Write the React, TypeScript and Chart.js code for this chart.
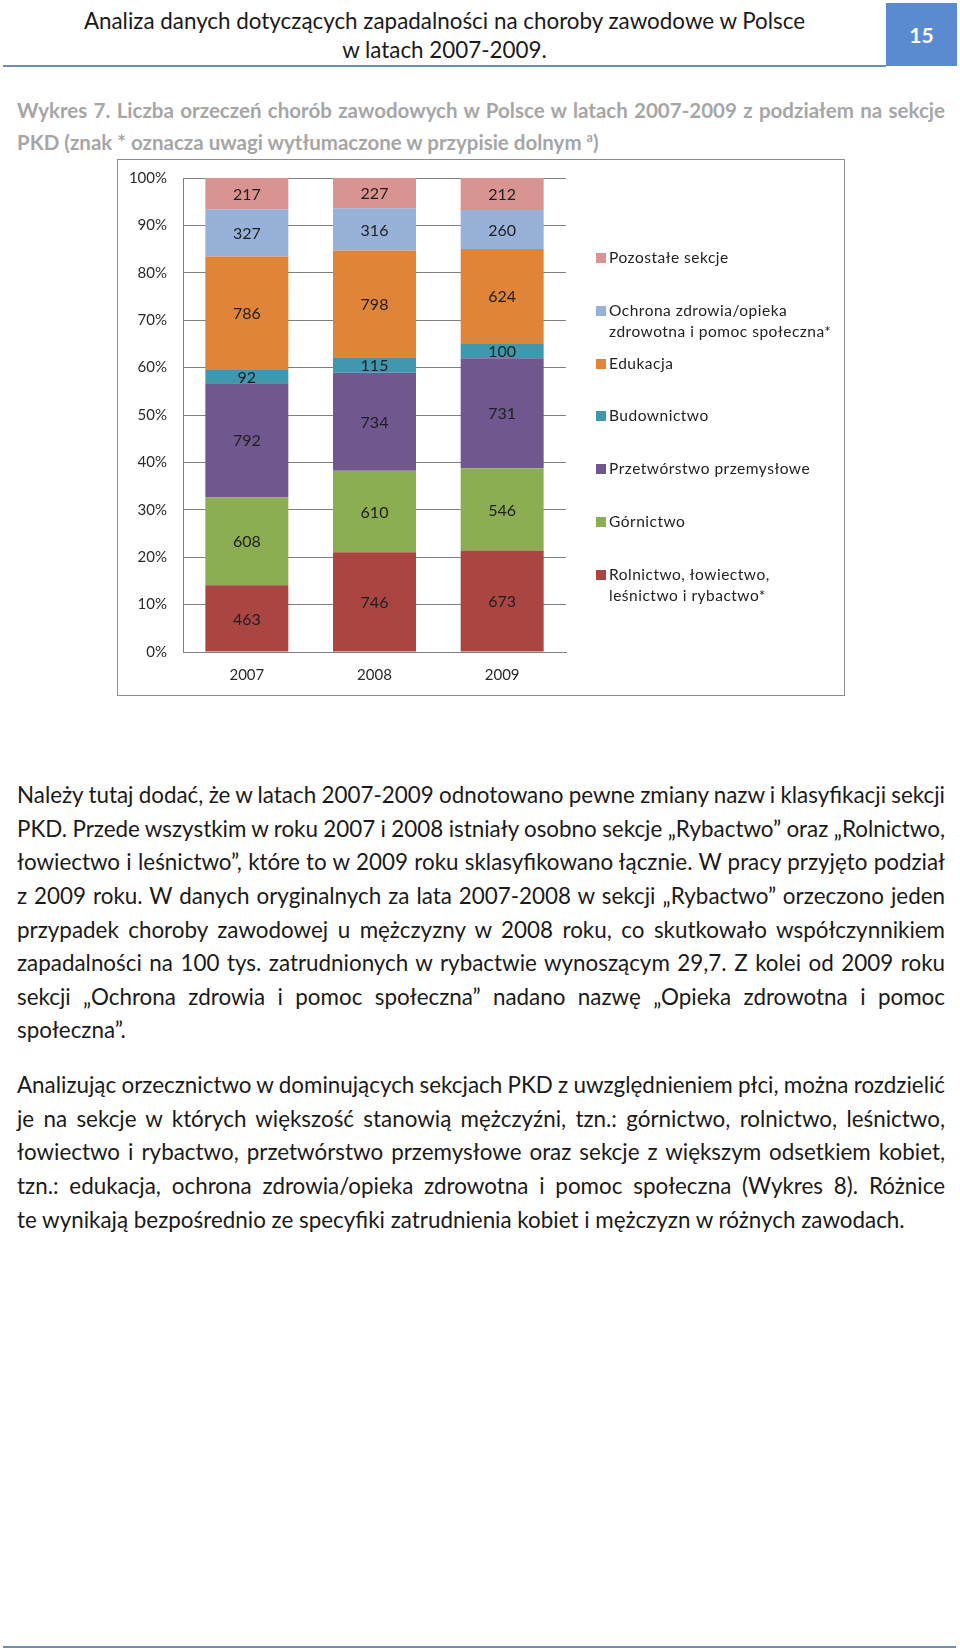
import React, { useEffect, useRef } from "react";
import { Chart, registerables } from "chart.js";

Chart.register(...registerables);

// ---------- data ----------
const years = ["2007", "2008", "2009"];

const seriesNames: string[][] = [
  ["Rolnictwo, łowiectwo,", "leśnictwo i rybactwo*"],
  ["Górnictwo"],
  ["Przetwórstwo przemysłowe"],
  ["Budownictwo"],
  ["Edukacja"],
  ["Ochrona zdrowia/opieka", "zdrowotna i pomoc społeczna*"],
  ["Pozostałe sekcje"],
];

const rolnictwo = [463, 746, 673];
const gornictwo = [608, 610, 546];
const przetworstwo = [792, 734, 731];
const budownictwo = [92, 115, 100];
const edukacja = [786, 798, 624];
const ochronaZdrowia = [327, 316, 260];
const pozostale = [217, 227, 212];

const seriesValues = [rolnictwo, gornictwo, przetworstwo, budownictwo, edukacja, ochronaZdrowia, pozostale];

const seriesColors = ["#AB4542", "#8DAD53", "#70578F", "#3F98AE", "#E0843A", "#97B1D8", "#D99391"];

const yMax = 100;
const yStep = 10;

// ---------- page text ----------
const headerLines = ["Analiza danych dotyczących zapadalności na choroby zawodowe w Polsce", "w latach 2007-2009."];
const pageNumber = "15";
const captionLine1 = "Wykres 7. Liczba orzeczeń chorób zawodowych w Polsce w latach 2007-2009 z podziałem na sekcje";
const captionLine2a = "PKD (znak * oznacza uwagi wytłumaczone w przypisie dolnym ";
const captionSup = "a";
const captionLine2b = ")";

const paragraph1 = [
  "Należy tutaj dodać, że w latach 2007-2009 odnotowano pewne zmiany nazw i klasyfikacji sekcji",
  "PKD. Przede wszystkim w roku 2007 i 2008 istniały osobno sekcje „Rybactwo” oraz „Rolnictwo,",
  "łowiectwo i leśnictwo”, które to w 2009 roku sklasyfikowano łącznie. W pracy przyjęto podział",
  "z 2009 roku. W danych oryginalnych za lata 2007-2008 w sekcji „Rybactwo” orzeczono jeden",
  "przypadek choroby zawodowej u mężczyzny w 2008 roku, co skutkowało współczynnikiem",
  "zapadalności na 100 tys. zatrudnionych w rybactwie wynoszącym 29,7. Z kolei od 2009 roku",
  "sekcji „Ochrona zdrowia i pomoc społeczna” nadano nazwę „Opieka zdrowotna i pomoc",
  "społeczna”.",
];

const paragraph2 = [
  "Analizując orzecznictwo w dominujących sekcjach PKD z uwzględnieniem płci, można rozdzielić",
  "je na sekcje w których większość stanowią mężczyźni, tzn.: górnictwo, rolnictwo, leśnictwo,",
  "łowiectwo i rybactwo, przetwórstwo przemysłowe oraz sekcje z większym odsetkiem kobiet,",
  "tzn.: edukacja, ochrona zdrowia/opieka zdrowotna i pomoc społeczna (Wykres 8). Różnice",
  "te wynikają bezpośrednio ze specyfiki zatrudnienia kobiet i mężczyzn w różnych zawodach.",
];

// ---------- styling constants ----------
const FONT = "Lato, 'Open Sans', sans-serif";
const CANVAS_W = 726;
const CANVAS_H = 535;
const PLOT = { left: 65, top: 18, right: 448, bottom: 492 };
const LEGEND = { markerX: 478, textX: 491, top: 98, step: 52.8, lineGap: 21, marker: 10 };

const valueLabelsPlugin = {
  id: "valueLabels",
  afterDatasetsDraw(chart: any) {
    const ctx = chart.ctx;
    ctx.save();
    ctx.font = "16px Lato";
    ctx.fillStyle = "#1e1e1e";
    ctx.textAlign = "center";
    ctx.textBaseline = "middle";
    chart.data.datasets.forEach((ds: any, i: number) => {
      const meta = chart.getDatasetMeta(i);
      meta.data.forEach((bar: any, j: number) => {
        const p = bar.getProps(["x", "y", "base"], true);
        ctx.fillText(String(ds.rawValues[j]), p.x, (p.y + p.base) / 2 + 1);
      });
    });
    ctx.restore();
  },
};

const sideLegendPlugin = {
  id: "sideLegend",
  afterDraw(chart: any) {
    const ctx = chart.ctx;
    ctx.save();
    ctx.font = "15.5px Lato";
    try {
      (ctx as any).letterSpacing = "0.5px";
    } catch (e) {}
    ctx.textBaseline = "middle";
    ctx.textAlign = "left";
    const items = chart.data.datasets.map((ds: any) => ds).reverse();
    items.forEach((ds: any, k: number) => {
      const y = LEGEND.top + k * LEGEND.step;
      ctx.fillStyle = ds.backgroundColor;
      ctx.fillRect(LEGEND.markerX, Math.round(y - LEGEND.marker / 2), LEGEND.marker, LEGEND.marker);
      ctx.fillStyle = "#222222";
      (ds.legendLines as string[]).forEach((line, li) => {
        ctx.fillText(line, LEGEND.textX, y + li * LEGEND.lineGap);
      });
    });
    ctx.restore();
  },
};

function StackedChart() {
  const ref = useRef<HTMLCanvasElement | null>(null);
  useEffect(() => {
    if (!ref.current) return;
    const totals = years.map((_, j) => seriesValues.reduce((s, arr) => s + arr[j], 0));
    const datasets = seriesValues.map((vals, i) => ({
      label: seriesNames[i].join(" "),
      legendLines: seriesNames[i],
      rawValues: vals,
      data: vals.map((v, j) => (v / totals[j]) * 100),
      backgroundColor: seriesColors[i],
      borderWidth: 0,
      categoryPercentage: 1,
      barPercentage: 0.65,
    }));
    const chart = new Chart(ref.current, {
      type: "bar",
      data: { labels: years, datasets: datasets as any },
      plugins: [valueLabelsPlugin, sideLegendPlugin],
      options: {
        animation: false,
        responsive: false,
        devicePixelRatio: 1,
        layout: { padding: { left: 0, top: PLOT.top, right: CANVAS_W - PLOT.right, bottom: 0 } },
        plugins: { legend: { display: false }, tooltip: { enabled: false }, title: { display: false } },
        scales: {
          x: {
            stacked: true,
            grid: { display: false, drawTicks: false },
            border: { display: true, color: "#808080", width: 1 },
            ticks: { color: "#2a2a2a", font: { family: "Lato", size: 15 }, padding: 14 },
            afterFit: (s: any) => {
              s.height = CANVAS_H - PLOT.bottom;
              s.paddingLeft = 0;
              s.paddingRight = 0;
            },
          },
          y: {
            stacked: true,
            min: 0,
            max: yMax,
            grid: { color: "#808080", lineWidth: 1, drawTicks: false },
            border: { display: true, color: "#808080", width: 1 },
            ticks: {
              stepSize: yStep,
              color: "#2a2a2a",
              font: { family: "Lato", size: 15 },
              padding: 16,
              callback: (v: any) => v + "%",
            },
            afterFit: (s: any) => {
              s.width = PLOT.left;
              s.paddingTop = 0;
              s.paddingBottom = 0;
            },
          },
        },
      },
    });
    return () => chart.destroy();
  }, []);
  return <canvas ref={ref} width={CANVAS_W} height={CANVAS_H} style={{ width: CANVAS_W, height: CANVAS_H, display: "block" }} />;
}

const justifyLine: React.CSSProperties = { textAlign: "justify", textAlignLast: "justify", wordSpacing: -3 };

export default function App() {
  const bodyLineH = 33.6;
  const bodyFont = 22.4;
  return (
    <div style={{ position: "absolute", left: 0, top: 0, width: 960, height: 1650, background: "#fff", overflow: "hidden", fontFamily: FONT, color: "#1a1a1a" }}>
      {/* header */}
      <div style={{ position: "absolute", left: 64, width: 761, top: 7, textAlign: "center", fontSize: 22.4, lineHeight: "28.5px" }}>
        {headerLines.map((l, i) => (
          <div key={i}>{l}</div>
        ))}
      </div>
      <div style={{ position: "absolute", left: 3, top: 65, width: 883, height: 1.5, background: "#6f8db3" }} />
      <div style={{ position: "absolute", left: 886, top: 3, width: 71, height: 63, background: "#5a8bd0", color: "#fff", fontWeight: 700, fontSize: 21, display: "flex", alignItems: "center", justifyContent: "center" }}>
        {pageNumber}
      </div>

      {/* caption */}
      <div style={{ position: "absolute", left: 17, width: 928, top: 95, fontSize: 20.5, fontWeight: 700, color: "#a6a6a6", lineHeight: "31.5px" }}>
        <div style={justifyLine}>{captionLine1}</div>
        <div>
          {captionLine2a}
          <sup style={{ fontSize: 12.5, lineHeight: 0 }}>{captionSup}</sup>
          {captionLine2b}
        </div>
      </div>

      {/* chart */}
      <div style={{ position: "absolute", left: 117, top: 159, width: 728, height: 537, border: "1px solid #8c8c8c", boxSizing: "border-box", background: "#fff" }}>
        <StackedChart />
      </div>

      {/* paragraph 1 */}
      <div style={{ position: "absolute", left: 17, width: 928, top: 795 - bodyLineH / 2, fontSize: bodyFont, lineHeight: bodyLineH + "px" }}>
        {paragraph1.map((l, i) => (
          <div key={i} style={i < paragraph1.length - 1 ? justifyLine : undefined}>
            {l}
          </div>
        ))}
      </div>

      {/* paragraph 2 */}
      <div style={{ position: "absolute", left: 17, width: 928, top: 1085 - bodyLineH / 2, fontSize: bodyFont, lineHeight: bodyLineH + "px" }}>
        {paragraph2.map((l, i) => (
          <div key={i} style={i < paragraph2.length - 1 ? justifyLine : undefined}>
            {l}
          </div>
        ))}
      </div>

      {/* footer rule */}
      <div style={{ position: "absolute", left: 3, top: 1646, width: 953, height: 1.5, background: "#6f8db3" }} />
    </div>
  );
}
